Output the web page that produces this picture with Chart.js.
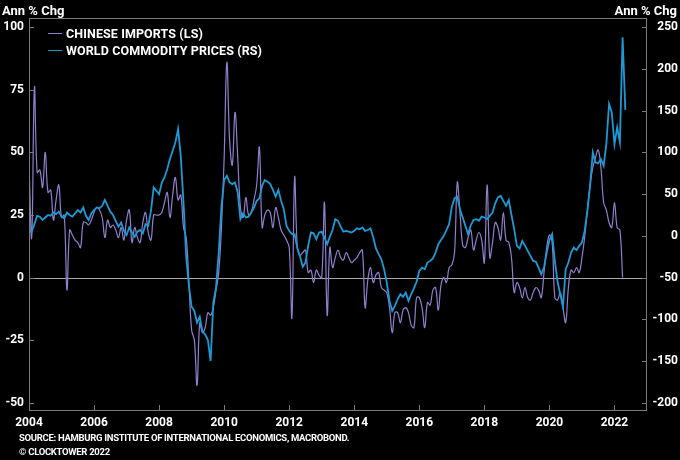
<!DOCTYPE html>
<html>
<head>
<meta charset="utf-8">
<script src="https://cdn.jsdelivr.net/npm/chart.js@4.4.1/dist/chart.umd.min.js"></script>
<style>
  html, body { margin: 0; padding: 0; background: #000; }
  #wrap { position: relative; width: 680px; height: 460px; background: #000; overflow: hidden;
          font-family: Roboto, "Noto Sans", sans-serif; font-weight: 700; color: #fff; }
  #wrap canvas { position: absolute; left: 0; top: 0; }
  .t { position: absolute; white-space: nowrap; line-height: 1; }
  .unit { font-size: 13px; top: 4px; }
  .leg { left: 48px; font-size: 12.5px; letter-spacing: 0.1px; }
  .leg i { display: inline-block; width: 14px; height: 0; border-top: 1.5px solid; vertical-align: middle; margin-right: 4px; position: relative; top: -1px; }
  .foot { left: 19px; font-size: 9.5px; letter-spacing: -0.3px; }
</style>
</head>
<body>
<div id="wrap">
  <canvas id="chart" width="680" height="460"></canvas>
  <div class="t unit" style="left:2px">Ann % Chg</div>
  <div class="t unit" style="right:3px">Ann % Chg</div>
  <div class="t leg" style="top:28px"><i style="border-color:#8f7fcf"></i>CHINESE IMPORTS (LS)</div>
  <div class="t leg" style="top:45px"><i style="border-color:#1d9ad6"></i>WORLD COMMODITY PRICES (RS)</div>
  <div class="t foot" style="top:433px">SOURCE: HAMBURG INSTITUTE OF INTERNATIONAL ECONOMICS, MACROBOND.</div>
  <div class="t foot" style="top:447px">© CLOCKTOWER 2022</div>
</div>
<script>
// ── Data (monthly, from Jan 2004) ─────────────────────
const START_YEAR = 2004;

// Chinese imports, ann % chg (left scale)
const imports = [
  45, 16, 76, 42, 43, 36, 50, 34, 35, 23, 31, 37,
  24, 25, -5, 19, 17, 15, 14, 12, 22, 22, 21, 23,
  26, 28, 27, 24, 16, 23, 20, 21, 19, 16, 20, 15,
  23, 27, 14, 20, 16, 14, 22, 26, 18, 15, 25, 25,
  25, 26, 30, 34, 24, 33, 40, 31, 33, 20, 16, -2,
  -21, -25, -43, -18, -22, -20, -14, -15, -12, -5, 2, 20,
  48, 86, 55, 45, 66, 48, 28, 24, 32, 25, 26, 31,
  37, 52, 20, 25, 27, 26, 20, 28, 24, 19, 17, 15,
  12, -16, 40, 12, 9, 10, 11, 2, 3, -2, 3, 1,
  0, 30, -15, 12, 4, 8, 11, 8, 7, 10, 8, 6,
  7, 8, 10, 11, -12, -1, 4, -2, 1, 2, -4, -5,
  -6, -12, -22, -14, -14, -18, -13, -12, -14, -19, -20, -8,
  -8, -12, -20, -10, -11, -5, -4, -13, -3, 0, -2, 4,
  5, 10, 38, 26, 13, 12, 16, 19, 11, 15, 18, 15,
  6, 37, 8, 14, 22, 20, 15, 26, 15, 14, 8, -6,
  -2, -4, -8, -4, -8, -9, -6, -4, -5, -8, 2, 12,
  17, 14, -8, -9, -6, -12, -18, -4, 3, 2, 4, 2,
  8, 16, 27, 37, 44, 48, 51, 44, 30, 27, 22, 20,
  30, 20, 19, 0
];

// World commodity prices, ann % chg (right scale)
const commodities = [
  8, 5, 14, 24, 23, 19, 22, 25, 24, 28, 26, 29,
  23, 21, 28, 25, 23, 27, 31, 28, 34, 24, 19, 27,
  31, 34, 33, 36, 43, 36, 29, 25, 18, 11, 16, 6,
  1, 10, 4, -1, 5, 7, 3, 14, 12, 30, 58, 54,
  50, 64, 70, 80, 92, 102, 112, 128, 95, 40, -25, -60,
  -85, -90, -104, -97, -115, -118, -125, -150, -80, -62, -20, 35,
  67, 72, 64, 62, 64, 52, 20, 27, 22, 23, 28, 34,
  42, 45, 60, 67, 65, 62, 55, 47, 55, 42, 32, 12,
  6, 2, 2, -15, -25, -37, -32, -12, 4, 3, -4, 4,
  5, -2, -10, -1, 7, 20, 18, 11, 5, 6, 5, 4,
  6, 9, 8, 10, 6, 7, 9, -2, -15, -22, -28, -40,
  -56, -78, -90, -84, -76, -70, -73, -68, -78, -70, -63, -55,
  -42, -38, -40, -32, -30, -27, -20, -10, -5, 0, 7, 14,
  35, 45, 47, 32, 22, 12, 2, 13, 19, 20, 18, 23,
  22, 20, 24, 28, 39, 46, 48, 42, 36, 43, 25, 8,
  -12, -15, -6, -12, -18, -24, -30, -31, -38, -46, -38, -20,
  -5, 2, -30, -55, -70, -85, -40, -32, -20, -14, -17, -12,
  -8, 6, 30, 60, 100, 88, 87, 92, 84, 110, 158, 148,
  110, 130, 112, 238, 151
];

const xTicks  = [2004, 2006, 2008, 2010, 2012, 2014, 2016, 2018, 2020, 2022];
const lTicks  = [-50, -25, 0, 25, 50, 75, 100];
const rTicks  = [-200, -150, -100, -50, 0, 50, 100, 150, 200, 250];

const PURPLE = "#8f7fcf";
const BLUE   = "#1d9ad6";

const toPoints = arr => arr.map((v, i) => ({ x: START_YEAR + i / 12, y: v }));

// ── Frame, zero line and inside ticks ─────────────────
const frame = {
  id: "frame",
  beforeDatasetsDraw(c) {
    const { ctx, chartArea: a, scales } = c;
    const y0 = Math.round(scales.yL.getPixelForValue(0)) + 0.5;
    ctx.save();
    ctx.strokeStyle = "#a8a8a8";
    ctx.lineWidth = 1;
    ctx.beginPath(); ctx.moveTo(a.left, y0); ctx.lineTo(a.right, y0); ctx.stroke();
    ctx.restore();
  },
  afterDatasetsDraw(c) {
    const { ctx, chartArea: a, scales } = c;
    ctx.save();
    ctx.strokeStyle = "#7c7c7c";
    ctx.lineWidth = 1;
    ctx.strokeRect(Math.round(a.left) + 0.5, Math.round(a.top) + 0.5,
                   Math.round(a.width) - 1, Math.round(a.height) - 1);
    ctx.beginPath();
    lTicks.forEach(v => {
      const y = Math.round(scales.yL.getPixelForValue(v)) + 0.5;
      ctx.moveTo(a.left, y); ctx.lineTo(a.left + 5, y);
    });
    rTicks.forEach(v => {
      const y = Math.round(scales.yR.getPixelForValue(v)) + 0.5;
      ctx.moveTo(a.right - 5, y); ctx.lineTo(a.right, y);
    });
    xTicks.forEach(v => {
      const x = Math.round(scales.x.getPixelForValue(v)) + 0.5;
      ctx.moveTo(x, a.bottom); ctx.lineTo(x, a.bottom - 6);
    });
    ctx.stroke();
    ctx.restore();
  }
};

const tickFont = { family: "Roboto", weight: "bold", size: 12 };

new Chart(document.getElementById("chart"), {
  type: "line",
  data: {
    datasets: [
      {
        label: "CHINESE IMPORTS (LS)",
        data: toPoints(imports),
        yAxisID: "yL",
        borderColor: PURPLE,
        borderWidth: 1.2,
        pointRadius: 0,
        tension: 0.4,
        order: 1
      },
      {
        label: "WORLD COMMODITY PRICES (RS)",
        data: toPoints(commodities),
        yAxisID: "yR",
        borderColor: BLUE,
        borderWidth: 1.8,
        pointRadius: 0,
        tension: 0,
        order: 0
      }
    ]
  },
  options: {
    responsive: false,
    animation: false,
    devicePixelRatio: 1,
    layout: { padding: { top: 18, right: 2, left: 0, bottom: 0 } },
    plugins: { legend: { display: false }, tooltip: { enabled: false } },
    scales: {
      x: {
        type: "linear",
        min: 2004, max: 2023,
        grid: { display: false, drawTicks: false },
        border: { display: false },
        afterBuildTicks: s => { s.ticks = xTicks.map(v => ({ value: v })); },
        afterFit: s => { s.height = 49; },
        ticks: { color: "#fff", font: tickFont, padding: 5, maxRotation: 0, callback: v => String(v) }
      },
      yL: {
        position: "left",
        min: -53.3, max: 103.7,
        grid: { display: false, drawTicks: false },
        border: { display: false },
        afterBuildTicks: s => { s.ticks = lTicks.map(v => ({ value: v })); },
        afterFit: s => { s.width = 29; },
        ticks: { color: "#fff", font: tickFont, padding: 5 }
      },
      yR: {
        position: "right",
        min: -209.9, max: 261.1,
        grid: { display: false, drawTicks: false },
        border: { display: false },
        afterBuildTicks: s => { s.ticks = rTicks.map(v => ({ value: v })); },
        afterFit: s => { s.width = 31; },
        ticks: { color: "#fff", font: tickFont, padding: 5, crossAlign: "far" }
      }
    }
  },
  plugins: [frame]
});
</script>
</body>
</html>
